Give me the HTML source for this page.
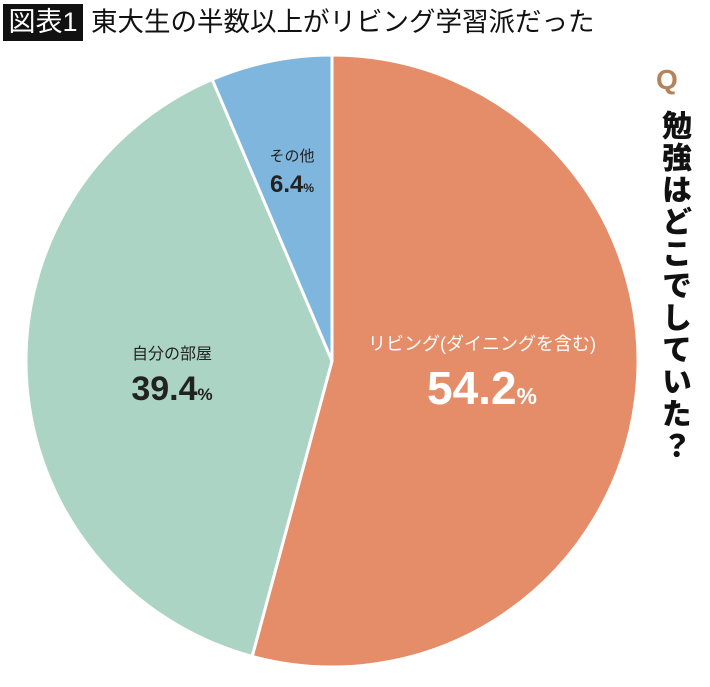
<!DOCTYPE html>
<html><head><meta charset="utf-8"><style>
body{margin:0;background:#fff;width:710px;height:687px;overflow:hidden;font-family:"Liberation Sans","Noto Sans CJK JP",sans-serif;position:relative}
#tbox{position:absolute;left:3px;top:4px;width:80px;height:37px;background:#111;color:#fff;font-size:27px;line-height:37px;text-align:center}
#title{position:absolute;left:91px;top:4px;font-size:26.5px;line-height:37px;color:#111}
#q{position:absolute;left:656px;top:64px;font-size:28px;font-weight:bold;color:#b5835a}
#vt{position:absolute;left:651px;top:110px;writing-mode:vertical-rl;font-size:30px;font-weight:900;color:#111;letter-spacing:2px}
</style></head><body>
<div id="tbox">図表1</div>
<div id="title">東大生の半数以上がリビング学習派だった</div>
<div id="q">Q</div>
<div id="vt">勉強はどこでしていた？</div>
<svg id="pie" width="710" height="687" style="position:absolute;left:0;top:0"></svg>
<script>
const labels=["リビング(ダイニングを含む)","自分の部屋","その他"];
const values=[54.2,39.4,6.4];
const colors=["#e58c68","#abd4c4","#7fb6de"];
const cx=332,cy=361,r=306;
const svg=document.getElementById('pie');
const NS="http://www.w3.org/2000/svg";
const total=values.reduce((a,b)=>a+b,0);
const anchors=[[482,350,'#fff',18,46,54],[172,359,'#222',16,34,41],[292,161,'#222',15,24,31]];
let a0=0;
values.forEach((v,i)=>{
  const a1=a0+v/total*2*Math.PI;
  const p=(a)=>[cx+r*Math.sin(a),cy-r*Math.cos(a)];
  const [x0,y0]=p(a0),[x1,y1]=p(a1);
  const path=document.createElementNS(NS,'path');
  path.setAttribute('d',`M${cx},${cy}L${x0},${y0}A${r},${r} 0 ${a1-a0>Math.PI?1:0} 1 ${x1},${y1}Z`);
  path.setAttribute('fill',colors[i]);path.setAttribute('stroke','#fff');path.setAttribute('stroke-width','3');
  
  
  svg.appendChild(path);
  const [lx,ly,col,fs,bs,dy]=anchors[i];
  const t1=document.createElementNS(NS,'text');
  t1.setAttribute('x',lx);t1.setAttribute('y',ly);t1.setAttribute('text-anchor','middle');
  t1.setAttribute('font-size',fs);t1.setAttribute('fill',col);
  t1.setAttribute('font-family','"Liberation Sans","Noto Sans CJK JP",sans-serif');
  t1.textContent=labels[i];
  
  
  svg.appendChild(t1);
  const t2=document.createElementNS(NS,'text');
  t2.setAttribute('x',lx);t2.setAttribute('y',ly+dy);t2.setAttribute('text-anchor','middle');
  t2.setAttribute('font-size',bs);t2.setAttribute('font-weight','bold');t2.setAttribute('fill',col);
  t2.setAttribute('font-family','"Liberation Sans",sans-serif');
  t2.innerHTML=v.toFixed(1)+'<tspan font-size="'+Math.round(bs*0.5)+'">%</tspan>';
  
  
  svg.appendChild(t2);
  a0=a1;
});
</script>
</body></html>
